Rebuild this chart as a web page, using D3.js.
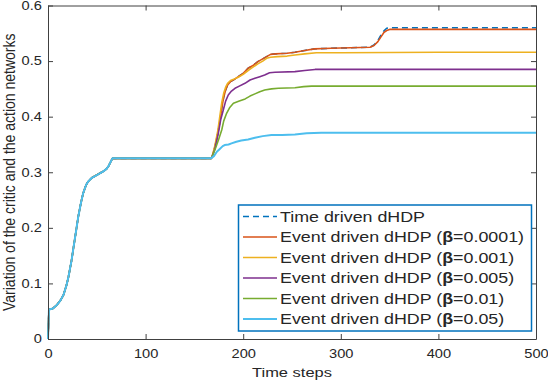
<!DOCTYPE html>
<html>
<head>
<meta charset="utf-8">
<script src="https://d3js.org/d3.v7.min.js"></script>
<title>Critic and action network variation</title>
<style>
  body { margin: 0; background: #fff; }
  text { font-family: 'Liberation Sans', Arial, Helvetica, sans-serif; fill: #262626; }
</style>
</head>
<body>
<script>
// shared rise up to the first plateau (time step, value)
var baseCurve = [[0,0],[1,0.053],[5,0.055],[9,0.061],[13,0.07],[16,0.08],[19,0.097],[21,0.112],
  [24,0.14],[26,0.163],[29,0.197],[31,0.22],[34,0.247],[36,0.262],[39,0.277],[41,0.283],[45,0.29],
  [50,0.295],[54,0.299],[57,0.302],[60,0.306],[62,0.311],[64,0.318],[66,0.325],[167,0.325]];

var timeDriven = [[168,0.327],[171,0.345],[174,0.37],[176,0.39],[178,0.415],[180,0.435],[182,0.448],
  [184,0.457],[187,0.463],[191,0.467],[195,0.472],[200,0.478],[205,0.487],[210,0.492],[215,0.499],
  [220,0.504],[224,0.508],[228,0.512],[233,0.513],[245,0.514],[253,0.516],[263,0.519],[273,0.522],
  [290,0.523],[310,0.524],[330,0.525],[334,0.529],[338,0.537],[341,0.546],[344,0.554],[347,0.559],
  [350,0.56],[500,0.56]];
var beta0001 = [[168,0.327],[171,0.345],[174,0.37],[176,0.39],[178,0.415],[180,0.435],[182,0.448],
  [184,0.457],[187,0.463],[191,0.467],[195,0.472],[200,0.478],[205,0.487],[210,0.492],[215,0.499],
  [220,0.504],[224,0.508],[228,0.512],[233,0.513],[245,0.514],[253,0.516],[263,0.519],[273,0.522],
  [290,0.523],[310,0.524],[330,0.525],[334,0.528],[338,0.535],[341,0.543],[344,0.551],[347,0.555],
  [350,0.557],[500,0.557]];
var beta001 = [[168,0.327],[171,0.348],[174,0.375],[176,0.4],[178,0.425],[180,0.442],[182,0.453],
  [184,0.46],[187,0.465],[191,0.468],[195,0.471],[200,0.476],[205,0.483],[210,0.489],[215,0.495],
  [220,0.5],[224,0.505],[228,0.507],[235,0.508],[245,0.509],[253,0.511],[263,0.513],[275,0.515],
  [300,0.515],[400,0.516],[500,0.516]];
var beta005 = [[168,0.327],[171,0.342],[174.5,0.37],[177,0.395],[179.6,0.412],[182,0.428],[184.7,0.439],
  [188,0.446],[191.6,0.451],[196,0.455],[201.8,0.46],[207,0.466],[212,0.469],[217,0.472],[222,0.475],
  [227,0.479],[232.6,0.48],[253,0.481],[263,0.483],[273.6,0.485],[500,0.485]];
var beta01 = [[168,0.327],[172,0.345],[175,0.36],[178,0.376],[180,0.392],[183,0.406],[186,0.416],
  [190,0.424],[196,0.428],[202,0.432],[207,0.437],[212,0.441],[217,0.445],[222,0.448],[229,0.45],
  [236,0.451],[253,0.452],[262,0.454],[270,0.455],[500,0.455]];
var beta05 = [[167,0.325],[170,0.329],[173,0.337],[176,0.342],[179,0.347],[181,0.349],[185,0.35],
  [188,0.352],[193,0.355],[198,0.357],[205,0.359],[212,0.362],[220,0.365],[229,0.367],[240,0.367],
  [253,0.368],[265,0.37],[280,0.371],[500,0.371]];

var labels = ["Time driven dHDP",
              "Event driven dHDP (\u03b2=0.0001)",
              "Event driven dHDP (\u03b2=0.001)",
              "Event driven dHDP (\u03b2=0.005)",
              "Event driven dHDP (\u03b2=0.01)",
              "Event driven dHDP (\u03b2=0.05)"];
var tails = [timeDriven, beta0001, beta001, beta005, beta01, beta05];
var colours = ["#0072BD", "#D95319", "#EDB120", "#7E2F8E", "#77AC30", "#4DBEEE"];
var xTicks = [0, 100, 200, 300, 400, 500];
var yTicks = [0, 0.1, 0.2, 0.3, 0.4, 0.5, 0.6];

var W = 548, H = 382,
    pL = 48, pR = 536, pT = 5.5, pB = 339,
    sx = 1.22;   // the figure is a bit stretched sideways

var svg = d3.select("body").append("svg")
  .attr("width", W)
  .attr("height", H);

var x = d3.scaleLinear().domain([0, 500]).range([pL, pR]);
var y = d3.scaleLinear().domain([0, 0.6]).range([pB, pT]);

var line = d3.line()
  .x(function(d){ return x(d[0]); })
  .y(function(d){ return y(d[1]); });

svg.append("g").selectAll("path")
  .data(tails)
  .enter().append("path")
    .attr("d", function(d){ return line(baseCurve.concat(d)); })
    .attr("fill", "none")
    .attr("stroke", function(d,i){ return colours[i]; })
    .attr("stroke-width", function(d,i){ return i == 5 ? 2 : 1.6; })
    .attr("stroke-dasharray", function(d,i){ return i == 0 ? "6,4" : null; })
    .attr("stroke-linejoin", "round");

// axes, ticks pointing inward on all four sides
var yFmt = function(d){ return d === 0 ? "0" : d3.format(".1f")(d); };

var gx = svg.append("g").attr("transform", "translate(0," + pB + ")")
  .call(d3.axisBottom(x).tickValues(xTicks).tickSize(-5).tickSizeOuter(0).tickPadding(10));
var gy = svg.append("g").attr("transform", "translate(" + pL + ",0)")
  .call(d3.axisLeft(y).tickValues(yTicks).tickFormat(yFmt).tickSize(-5).tickSizeOuter(0).tickPadding(5));
var gt = svg.append("g").attr("transform", "translate(0," + pT + ")")
  .call(d3.axisTop(x).tickValues(xTicks).tickSize(-5).tickSizeOuter(0).tickFormat(""));
var gr = svg.append("g").attr("transform", "translate(" + pR + ",0)")
  .call(d3.axisRight(y).tickValues(yTicks).tickSize(-5).tickSizeOuter(0).tickFormat(""));

svg.selectAll(".domain, .tick line").attr("stroke", "#404040").attr("stroke-width", 1);
[gx, gy].forEach(function(g){
  g.selectAll("text")
    .attr("transform", "scale(" + sx + ",1)")
    .style("font-size", "12px")
    .style("fill", "#262626")
    .style("font-family", "'Liberation Sans', Arial, sans-serif");
});

svg.append("text")
  .attr("transform", "translate(" + ((pL + pR) / 2) + ",377) scale(" + sx + ",1)")
  .attr("text-anchor", "middle")
  .style("font-size", "13.5px")
  .text("Time steps");

svg.append("text")
  .attr("transform", "translate(14.5," + ((pT + pB) / 2) + ") scale(1.12,1) rotate(-90)")
  .attr("text-anchor", "middle")
  .style("font-size", "14px")
  .text("Variation of the critic and the action networks");

// legend
var lg = svg.append("g");
lg.append("rect")
  .attr("x", 238.5).attr("y", 205)
  .attr("width", 293).attr("height", 126)
  .attr("fill", "#fff")
  .attr("stroke", "#0072BD")
  .attr("stroke-width", 1.5);

var rows = lg.selectAll("g.row")
  .data(labels)
  .enter().append("g")
    .attr("class", "row")
    .attr("transform", function(d,i){ return "translate(0," + (216.5 + i * 20.5) + ")"; });

rows.append("line")
  .attr("x1", 243).attr("x2", 277)
  .attr("stroke", function(d,i){ return colours[i]; })
  .attr("stroke-width", function(d,i){ return i == 5 ? 2 : 1.6; })
  .attr("stroke-dasharray", function(d,i){ return i == 0 ? "6,4" : null; });

var lt = rows.append("text")
  .attr("transform", "translate(280,0) scale(1.23,1)")
  .attr("dy", "0.36em")
  .style("font-size", "14.5px");
lt.each(function(d){
  var parts = d.split("\u03b2"), t = d3.select(this);
  t.append("tspan").text(parts[0]);
  if (parts.length > 1) {
    t.append("tspan").style("font-weight", "bold").text("\u03b2");
    t.append("tspan").text(parts[1]);
  }
});
</script>
</body>
</html>
